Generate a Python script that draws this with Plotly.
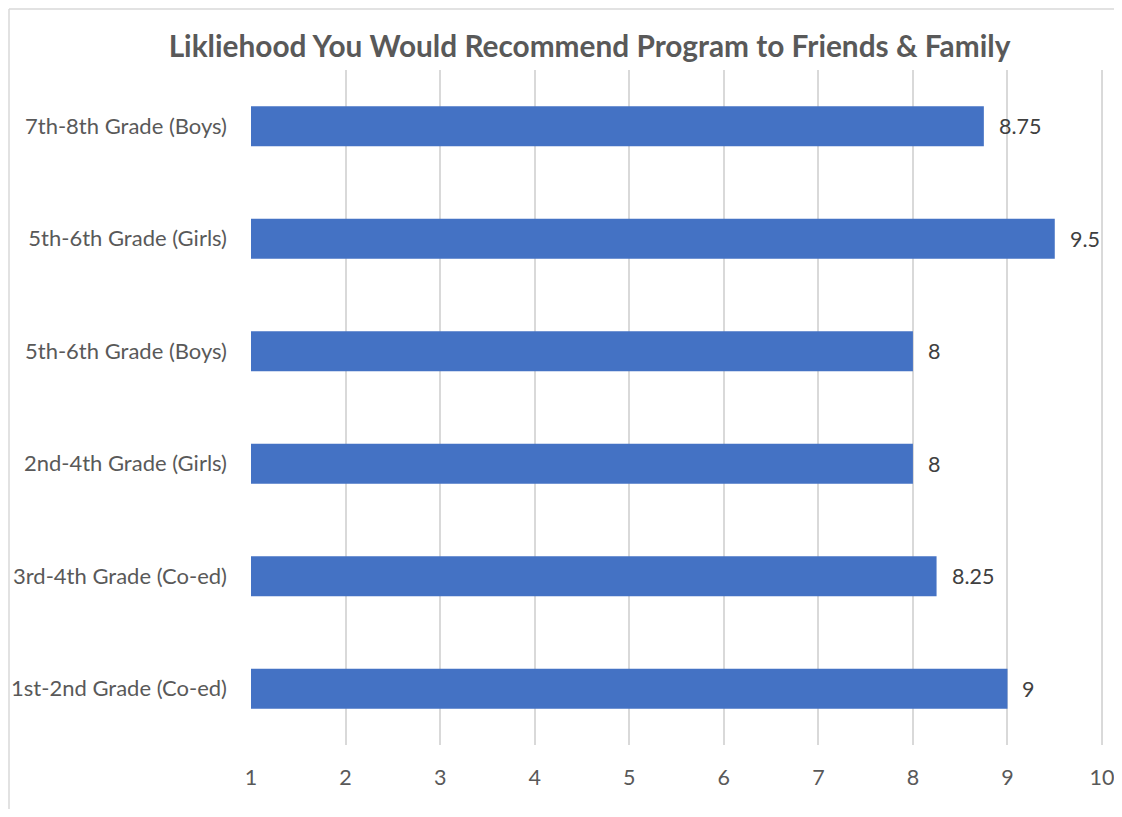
import plotly.graph_objects as go

categories = [
    "1st-2nd Grade (Co-ed)",
    "3rd-4th Grade (Co-ed)",
    "2nd-4th Grade (Girls)",
    "5th-6th Grade (Boys)",
    "5th-6th Grade (Girls)",
    "7th-8th Grade (Boys)",
]
values = [9, 8.25, 8, 8, 9.5, 8.75]
x_ticks = [1, 2, 3, 4, 5, 6, 7, 8, 9, 10]
title_text = "Likliehood You Would Recommend Program to Friends & Family"

FONT = "Lato"
OFF = 8  # page body margin
W, H = 1110, 817 - 2 * OFF
L, T = 251 - OFF, 70 - OFF
R = W - (1103 - OFF)
B = H - (745 - OFF)

fig = go.Figure()
fig.add_trace(go.Bar(
    x=values, y=categories, orientation="h",
    marker=dict(color="#4472C4", line=dict(width=0)),
    hoverinfo="x+y",
))

for v, c in zip(values, categories):
    fig.add_annotation(
        x=v, y=c, xref="x", yref="y", text=f"{v:g}", showarrow=False,
        xanchor="left", yanchor="middle", xshift=13,
        font=dict(family=FONT, size=21.5, color="#404040"),
    )

# last gridline (at the axis maximum), drawn explicitly
fig.add_shape(type="line", xref="x", yref="paper", x0=x_ticks[-1], x1=x_ticks[-1],
              y0=0, y1=1, layer="below", line=dict(color="#d9d9d9", width=2))

pw = W - L - R
ph = H - T - B
bx = (1 - L) / pw
by = (H - B - 1) / ph
fig.add_shape(type="line", xref="paper", yref="paper", x0=bx, x1=1.2, y0=by, y1=by,
              line=dict(color="#d9d9d9", width=1.5))
fig.add_shape(type="line", xref="paper", yref="paper", x0=bx, x1=bx, y0=by, y1=-0.3,
              line=dict(color="#d9d9d9", width=1.5))

fig.update_layout(
    width=W, height=H,
    margin=dict(l=L, r=R, t=T, b=B, autoexpand=False),
    paper_bgcolor="white", plot_bgcolor="white",
    bargap=0.644,
    showlegend=False,
    title=dict(text=f"<b>{title_text}</b>", x=((168 + 1011) / 2 - OFF) / W, xanchor="center",
               y=1 - (47 - OFF) / H, yanchor="middle", yref="container",
               font=dict(family=FONT, size=29.8, color="#595959")),
    font=dict(family=FONT, size=22, color="#595959"),
)
fig.update_xaxes(
    range=[1, 10.01], tickvals=x_ticks, showgrid=True, gridcolor="#d9d9d9", gridwidth=2,
    zeroline=False, showline=False, ticks="", ticklabelstandoff=17, automargin=False,
    ticklabeloverflow="allow",
    tickfont=dict(family=FONT, size=21.5, color="#595959"), fixedrange=True,
)
fig.update_yaxes(
    categoryorder="array", categoryarray=categories, showgrid=False, zeroline=False,
    showline=False, ticks="", ticklabelstandoff=23, automargin=False,
    tickfont=dict(family=FONT, size=22, color="#595959"), fixedrange=True,
)

fig.write_html("out.html")
